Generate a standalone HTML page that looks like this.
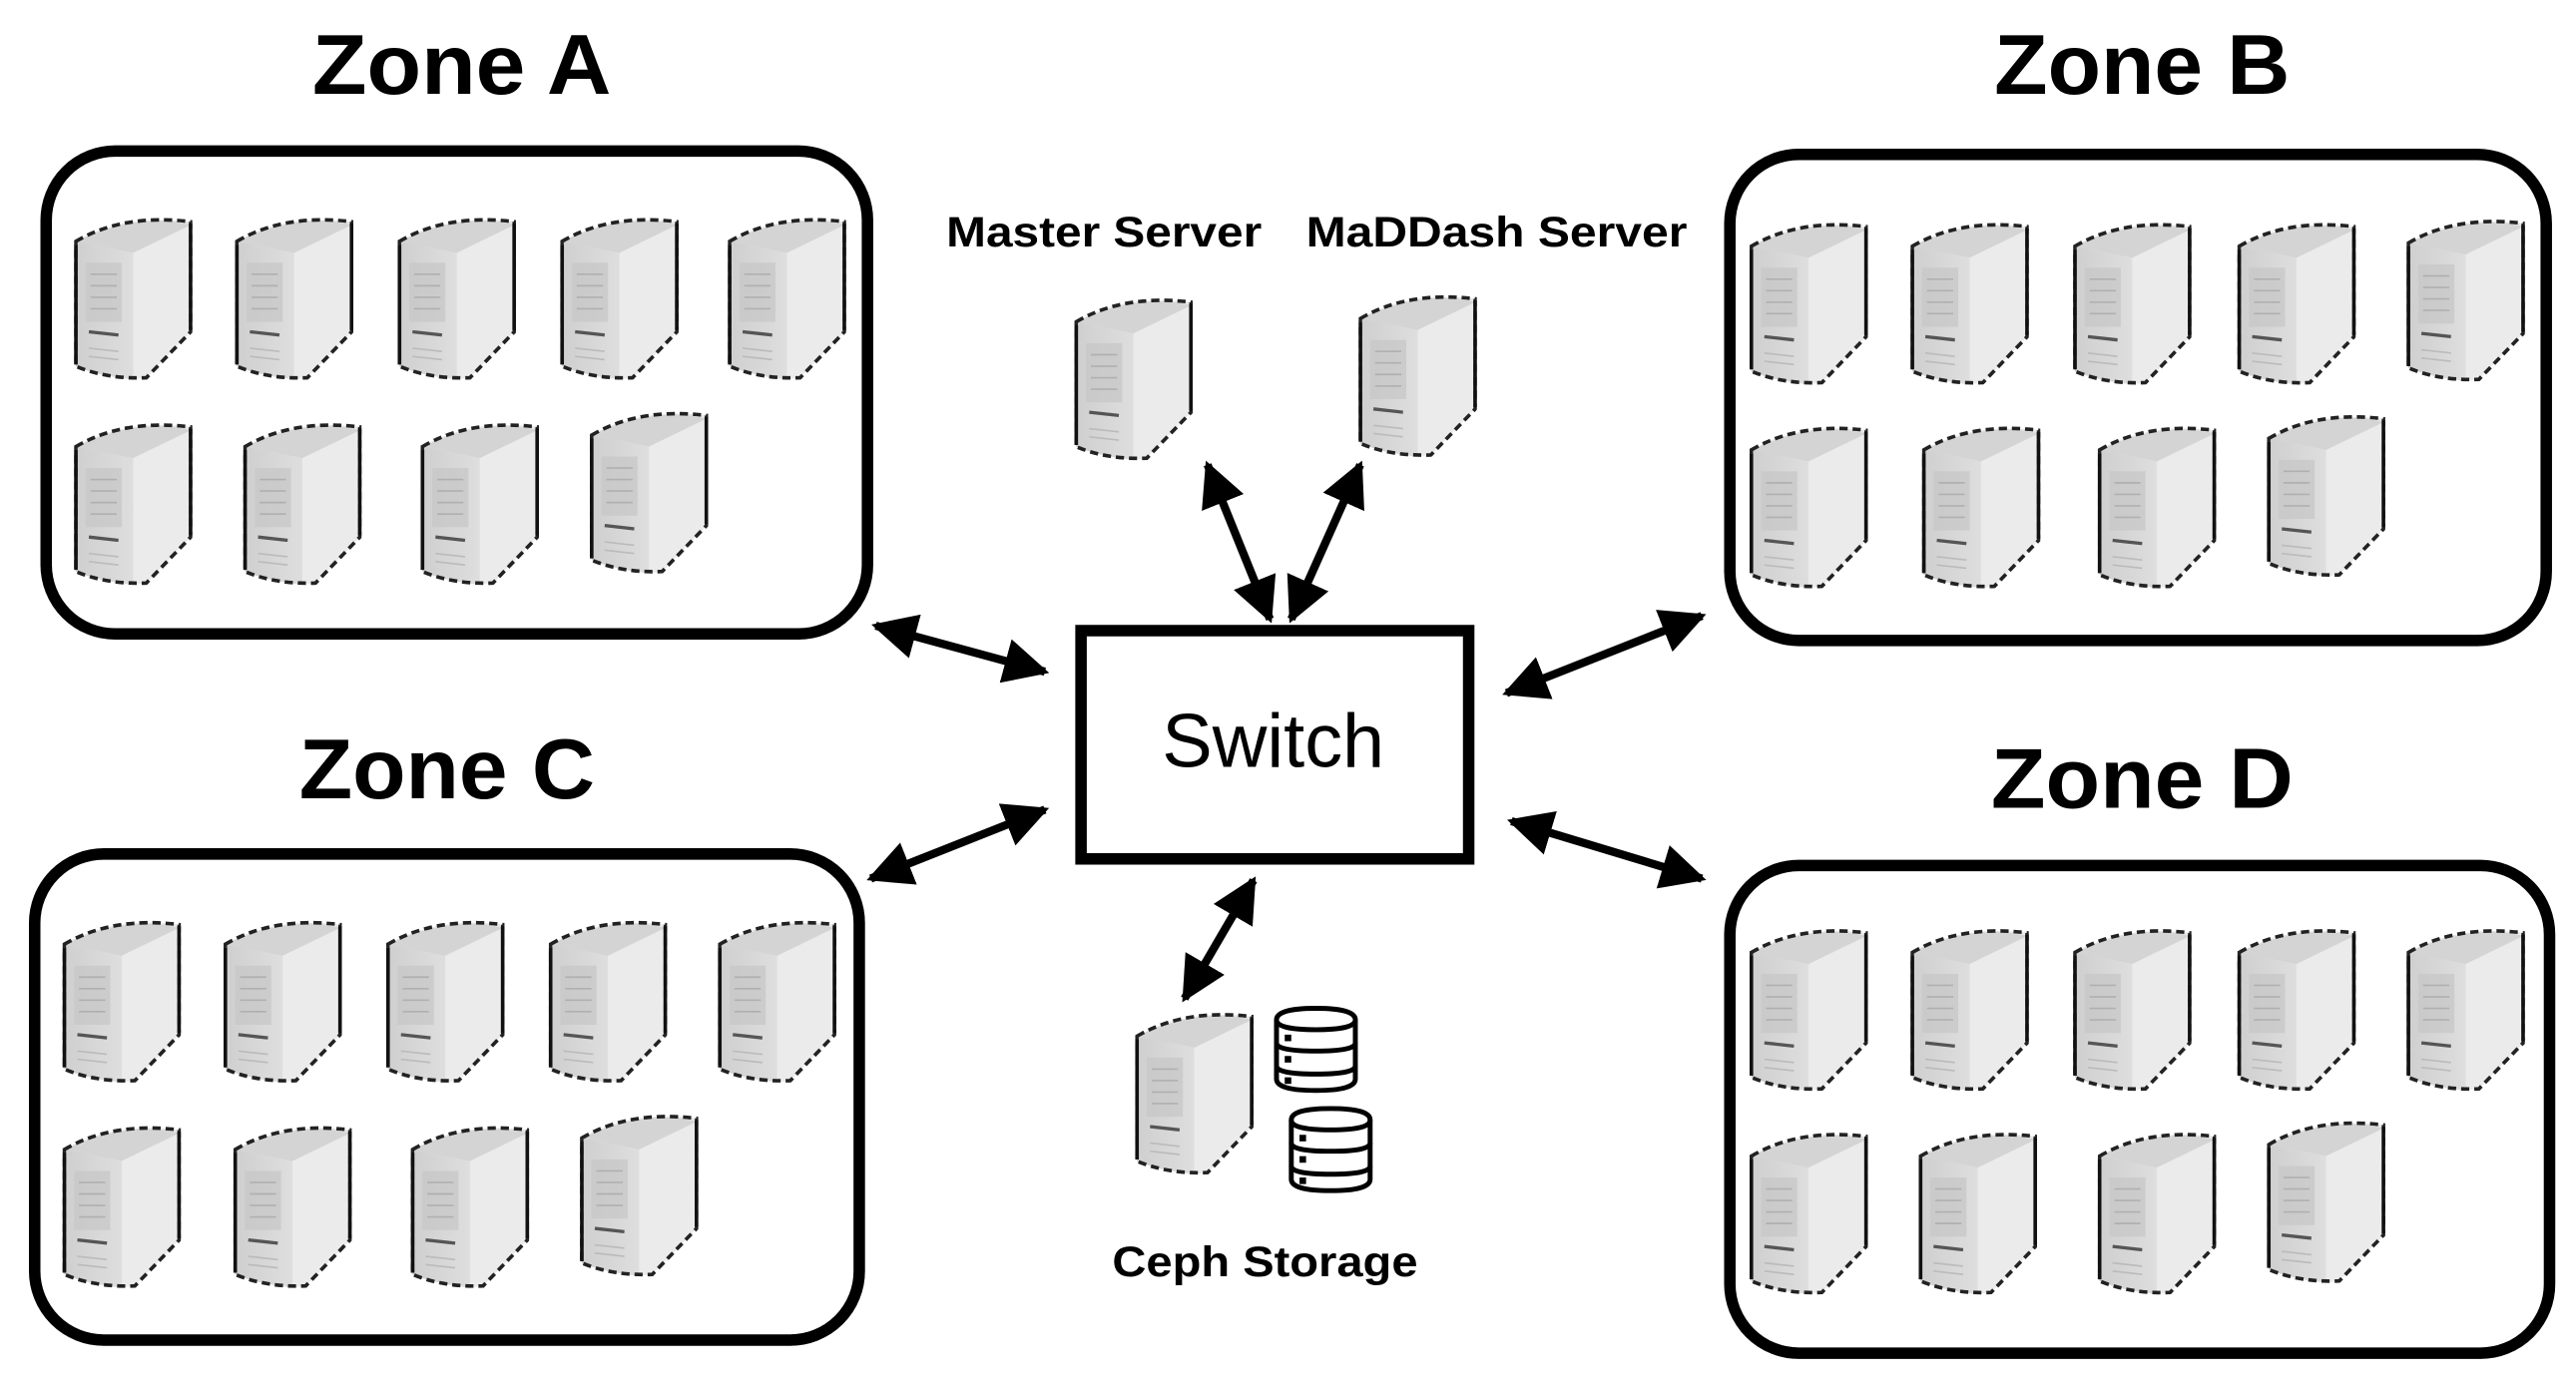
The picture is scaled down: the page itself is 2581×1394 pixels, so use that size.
<!DOCTYPE html>
<html><head><meta charset="utf-8"><style>
html,body{margin:0;padding:0;background:#fff;}
svg{display:block;}
.t{font-family:"Liberation Sans",sans-serif;font-weight:bold;fill:#000;}
</style></head><body>
<svg width="2581" height="1394" viewBox="0 0 1568 847" xmlns="http://www.w3.org/2000/svg">
<defs>
<linearGradient id="gf" x1="0" x2="1"><stop offset="0" stop-color="#cfcfcf"/><stop offset="1" stop-color="#dedede"/></linearGradient>
<symbol id="srv" viewBox="0 0 72 102" width="72" height="102">
  <path d="M1,17 Q30,0 71,5 L71,72 L44,100 Q20,101 1,93 Z" fill="#e6e6e6"/>
  <path d="M1,17 L36,24 L71,7 Q40,-1 1,17 Z" fill="#d4d4d4"/>
  <path d="M1,17 L36,24 L36,101 Q15,99 1,93 Z" fill="url(#gf)"/>
  <path d="M36,24 L71,7 L71,72 L44,100 L36,101 Z" fill="#ebebeb"/>
  <rect x="7" y="30" width="22" height="36" fill="#c6c6c6" opacity="0.7"/>
  <g stroke="#b0b0b0" stroke-width="1"><line x1="10" y1="37" x2="26" y2="37"/><line x1="10" y1="44" x2="26" y2="44"/><line x1="10" y1="51" x2="26" y2="51"/><line x1="10" y1="58" x2="26" y2="58"/></g>
  <line x1="9" y1="72" x2="27" y2="74" stroke="#555" stroke-width="2"/>
  <g stroke="#bbb" stroke-width="1"><line x1="9" y1="82" x2="27" y2="84"/><line x1="9" y1="87" x2="27" y2="89"/></g>
  <path d="M1,17 Q30,0 71,5 L71,72 L44,100 Q20,101 1,93 Z" fill="none" stroke="#222" stroke-width="2.2" stroke-dasharray="5,3"/>
  <line x1="1" y1="19" x2="1" y2="92" stroke="#111" stroke-width="2.4"/>
  <line x1="71" y1="6" x2="71" y2="71" stroke="#111" stroke-width="2.4"/>
</symbol>
<symbol id="db" viewBox="0 0 54 54" width="54" height="54">
  <g fill="#fff" stroke="#000" stroke-width="3">
    <path d="M3,9 Q3,2 27,2 Q51,2 51,9 L51,45 Q51,52 27,52 Q3,52 3,45 Z"/>
    <path d="M3,9 Q3,15 27,15 Q51,15 51,9" fill="none"/>
    <path d="M3,23 Q3,28 27,28 Q51,28 51,23" fill="none"/>
    <path d="M3,37 Q3,42 27,42 Q51,42 51,37" fill="none"/>
  </g>
  <rect x="8" y="18" width="4" height="4"/><rect x="8" y="31" width="4" height="4"/><rect x="8" y="44" width="4" height="4"/>
</symbol>
<marker id="ah" viewBox="0 0 10 10" refX="9" refY="5" markerWidth="5.5" markerHeight="5.5" orient="auto-start-reverse" markerUnits="strokeWidth">
  <path d="M0,0 L10,5 L0,10 Z" fill="#000"/>
</marker>
</defs>

<text class="t" x="281" y="57" font-size="52" text-anchor="middle" textLength="182" lengthAdjust="spacingAndGlyphs">Zone A</text>
<text class="t" x="1304" y="57" font-size="52" text-anchor="middle" textLength="180" lengthAdjust="spacingAndGlyphs">Zone B</text>
<text class="t" x="272" y="486" font-size="52" text-anchor="middle" textLength="180" lengthAdjust="spacingAndGlyphs">Zone C</text>
<text class="t" x="1304" y="492" font-size="52" text-anchor="middle" textLength="184" lengthAdjust="spacingAndGlyphs">Zone D</text>

<g fill="none" stroke="#000" stroke-width="7">
<rect x="28" y="92" width="500" height="294" rx="42"/>
<rect x="1053" y="94" width="497" height="296" rx="42"/>
<rect x="21" y="520" width="502" height="296" rx="42"/>
<rect x="1053" y="527" width="499" height="297" rx="42"/>
</g>

<use href="#srv" x="45" y="130"/><use href="#srv" x="143" y="130"/><use href="#srv" x="242" y="130"/><use href="#srv" x="341" y="130"/><use href="#srv" x="443" y="130"/>
<use href="#srv" x="45" y="255"/><use href="#srv" x="148" y="255"/><use href="#srv" x="256" y="255"/><use href="#srv" x="359" y="248"/>
<use href="#srv" x="1065" y="133"/><use href="#srv" x="1163" y="133"/><use href="#srv" x="1262" y="133"/><use href="#srv" x="1362" y="133"/><use href="#srv" x="1465" y="131"/>
<use href="#srv" x="1065" y="257"/><use href="#srv" x="1170" y="257"/><use href="#srv" x="1277" y="257"/><use href="#srv" x="1380" y="250"/>
<use href="#srv" x="38" y="558"/><use href="#srv" x="136" y="558"/><use href="#srv" x="235" y="558"/><use href="#srv" x="334" y="558"/><use href="#srv" x="437" y="558"/>
<use href="#srv" x="38" y="683"/><use href="#srv" x="142" y="683"/><use href="#srv" x="250" y="683"/><use href="#srv" x="353" y="676"/>
<use href="#srv" x="1065" y="563"/><use href="#srv" x="1163" y="563"/><use href="#srv" x="1262" y="563"/><use href="#srv" x="1362" y="563"/><use href="#srv" x="1465" y="563"/>
<use href="#srv" x="1065" y="687"/><use href="#srv" x="1168" y="687"/><use href="#srv" x="1277" y="687"/><use href="#srv" x="1380" y="680"/>

<text class="t" x="672" y="150" font-size="26" text-anchor="middle" textLength="192" lengthAdjust="spacingAndGlyphs">Master Server</text>
<text class="t" x="911" y="150" font-size="26" text-anchor="middle" textLength="232" lengthAdjust="spacingAndGlyphs">MaDDash Server</text>
<use href="#srv" x="654" y="179"/>
<use href="#srv" x="827" y="177"/>

<rect x="658" y="384" width="236" height="139" fill="#fff" stroke="#000" stroke-width="7"/>
<text x="775" y="467" font-family="Liberation Sans, sans-serif" font-size="46" text-anchor="middle">Switch</text>

<use href="#srv" x="691" y="614"/>
<use href="#db" x="774" y="612"/>
<use href="#db" x="783" y="673"/>
<text class="t" x="770" y="777" font-size="26" text-anchor="middle" textLength="186" lengthAdjust="spacingAndGlyphs">Ceph Storage</text>

<g stroke="#000" stroke-width="5" marker-start="url(#ah)" marker-end="url(#ah)">
<line x1="533" y1="381" x2="636" y2="409"/>
<line x1="530" y1="535" x2="636" y2="493"/>
<line x1="917" y1="422" x2="1036" y2="375"/>
<line x1="920" y1="500" x2="1036" y2="535"/>
<line x1="735" y1="283" x2="773" y2="377"/>
<line x1="828" y1="283" x2="786" y2="377"/>
<line x1="763" y1="536" x2="721" y2="608"/>
</g>
</svg>
</body></html>
